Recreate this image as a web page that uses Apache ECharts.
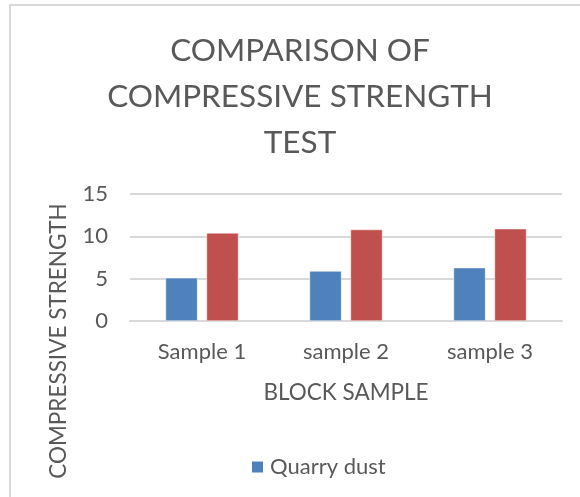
<!DOCTYPE html>
<html>
<head>
<meta charset="utf-8">
<script src="https://cdn.jsdelivr.net/npm/echarts@6/dist/echarts.min.js"></script>
<style>
  html, body { margin: 0; padding: 0; background: #fff; }
  .wrap { position: relative; width: 580px; height: 497px; overflow: hidden; }
  .frame {
    position: absolute; left: 9px; top: 4px; width: 600px; height: 520px;
    border-left: 2px solid #d9d9d9; border-top: 2px solid #d9d9d9;
  }
  #chart { position: absolute; left: 0; top: 0; width: 580px; height: 497px; }
</style>
</head>
<body>
<div class="wrap">
  <div class="frame"></div>
  <div id="chart"></div>
</div>
<script>
// data
var categories = ['Sample 1', 'sample 2', 'sample 3'];
var quarryDust = [5.1, 5.9, 6.3];
var secondSeries = [10.4, 10.8, 10.9];
var yTicks = [0, 5, 10, 15];

var font = 'Lato, "Liberation Sans", sans-serif';
var grey = '#595959';

var myChart = echarts.init(document.getElementById('chart'), null, { renderer: 'canvas' });
myChart.setOption({
  animation: false,
  textStyle: { fontFamily: font },
  title: {
    text: 'COMPARISON OF\nCOMPRESSIVE STRENGTH\nTEST',
    left: 295,
    textAlign: 'center',
    top: 23,
    textStyle: { fontFamily: font, fontWeight: 'normal', fontSize: 31.5, lineHeight: 46, color: grey }
  },
  legend: {
    data: ['Quarry dust'],
    left: 250,
    top: 456,
    padding: 0,
    itemWidth: 13,
    itemHeight: 13,
    itemGap: 6,
    icon: 'rect',
    textStyle: { fontFamily: font, fontSize: 22, color: grey, padding: [0, 0, 0, 1] }
  },
  grid: { left: 130, right: 18, top: 194, bottom: 176 },
  xAxis: {
    type: 'category',
    data: categories,
    name: 'BLOCK SAMPLE',
    nameLocation: 'middle',
    nameGap: 60,
    nameTextStyle: { fontFamily: font, fontSize: 22.5, color: grey },
    axisLine: { lineStyle: { color: '#d9d9d9', width: 2 } },
    axisTick: { show: false },
    axisLabel: { fontFamily: font, fontSize: 22, color: grey, margin: 20 }
  },
  yAxis: {
    type: 'value',
    min: yTicks[0],
    max: yTicks[yTicks.length - 1],
    interval: 5,
    axisLine: { show: false },
    axisTick: { show: false },
    splitLine: { lineStyle: { color: '#d9d9d9', width: 2 } },
    axisLabel: { fontFamily: font, fontSize: 22, color: grey, margin: 22 }
  },
  graphic: [{
    type: 'text',
    x: 59,
    y: 341,
    rotation: Math.PI / 2,
    style: {
      text: 'COMPRESSIVE STRENGTH',
      fontFamily: font,
      fontSize: 22.5,
      fill: grey,
      align: 'center',
      verticalAlign: 'middle'
    }
  }],
  series: [
    {
      name: 'Quarry dust',
      type: 'bar',
      data: quarryDust,
      barWidth: 32,
      barGap: '28%',
      itemStyle: { color: '#4f81bd', borderColor: '#fff', borderWidth: 0.5 }
    },
    {
      name: 'Series 2',
      type: 'bar',
      data: secondSeries,
      barWidth: 32,
      itemStyle: { color: '#c0504d', borderColor: '#fff', borderWidth: 0.5 }
    }
  ]
});
</script>
</body>
</html>
